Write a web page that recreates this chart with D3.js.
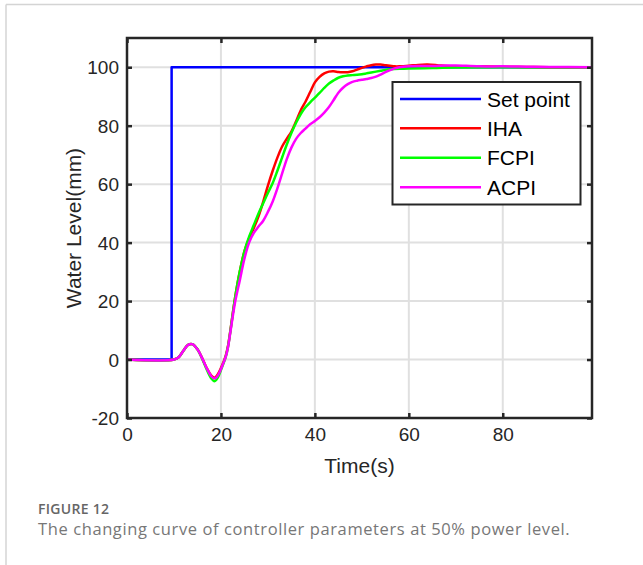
<!DOCTYPE html>
<html>
<head>
<meta charset="utf-8">
<script src="https://cdn.jsdelivr.net/npm/d3@7"></script>
<style>
  html, body { margin: 0; padding: 0; background: #fff; }
  svg { display: block; }
  .tick-label { font-family: "Liberation Sans", Arial, sans-serif; font-size: 19px; fill: #262626; }
  .axis-title { font-family: "Liberation Sans", Arial, sans-serif; font-size: 21px; fill: #262626; }
  .legend-text { font-family: "Liberation Sans", Arial, sans-serif; font-size: 21px; fill: #000; }
  .cap-head { font-family: "Open Sans", "Noto Sans", sans-serif; font-size: 14px; font-weight: 600; fill: #666; letter-spacing: 0.3px; }
  .cap-text { font-family: "Open Sans", "Noto Sans", sans-serif; font-size: 16.5px; fill: #777; letter-spacing: 0.6px; }
</style>
</head>
<body>
<svg id="chart" width="643" height="565"></svg>
<script>
// Water level response (mm) over time (s) for each controller
const seriesNames = ["Set point", "IHA", "FCPI", "ACPI"];
const seriesColors = ["#0000ff", "#ff0000", "#00ff00", "#ff00ff"];

const setPointT = [0, 9.5, 9.5, 99];
const setPointY = [0, 0, 100, 100];

const ihaT = [0, 10, 11, 12, 13, 14, 15, 16, 17, 18, 18.6, 19, 19.5, 20, 20.5, 21, 21.5, 22, 23, 24, 25, 26, 27, 28, 29, 30, 31, 32, 33, 34, 35, 36, 37, 38, 39, 40, 41, 42, 43, 44, 45, 46, 47, 48, 49, 50, 51, 52, 53, 54, 55, 56, 57, 58, 60, 62, 64, 66, 68, 70, 75, 80, 85, 90, 99];
const ihaY = [0, 0, 0.8, 3, 5, 5.2, 3.5, 0.5, -3, -5.6, -6.2, -5.8, -4.6, -2.9, -1, 1.2, 4.6, 9.8, 21, 30, 37, 41.5, 45, 49, 54, 59.5, 64.5, 69, 72.8, 75.5, 78, 81.5, 85.3, 88.2, 91.5, 94.8, 96.7, 97.9, 98.5, 98.6, 98.4, 98.3, 98.3, 98.6, 99.2, 99.8, 100.3, 100.7, 100.9, 100.9, 100.7, 100.5, 100.3, 100.3, 100.5, 100.8, 100.9, 100.7, 100.4, 100.3, 100.3, 100.2, 100.1, 100, 100];

const fcpiT = [0, 10, 11, 12, 13, 14, 15, 16, 17, 18, 18.6, 19, 19.5, 20, 20.5, 21, 21.5, 22, 23, 24, 25, 26, 27, 28, 29, 30, 31, 32, 33, 34, 35, 36, 37, 38, 39, 40, 41, 42, 43, 44, 45, 46, 47, 48, 49, 50, 51, 52, 53, 54, 55, 56, 58, 60, 65, 70, 80, 99];
const fcpiY = [0, 0, 0.8, 3, 5, 5.2, 3.5, 0.3, -3.5, -6.6, -7.4, -7, -5.6, -3.6, -1.5, 0.8, 4.3, 9.6, 21, 30, 37, 42, 46, 50, 53.5, 57, 60.3, 64.5, 69, 73.5, 77.5, 81, 84, 86.3, 88, 89.6, 91.2, 92.9, 94.4, 95.5, 96.4, 96.9, 97.2, 97.3, 97.4, 97.6, 97.9, 98.2, 98.5, 98.8, 99.1, 99.3, 99.5, 99.6, 99.7, 99.9, 100, 100];

const acpiT = [0, 10, 11, 12, 13, 14, 15, 16, 17, 18, 18.6, 19, 19.5, 20, 20.5, 21, 21.5, 22, 23, 24, 25, 26, 27, 28, 29, 30, 31, 32, 33, 34, 35, 36, 37, 38, 39, 40, 41, 42, 43, 44, 45, 46, 47, 48, 49, 50, 51, 52, 53, 54, 55, 56, 57, 58, 60, 62, 65, 68, 70, 75, 80, 85, 90, 99];
const acpiY = [0, 0, 0.8, 3, 5, 5.2, 3.5, 0.5, -3, -5.8, -6.5, -6.2, -5, -3.3, -1.3, 0.8, 4.2, 9.3, 19.5, 27, 34.5, 40, 43.3, 45.5, 47.5, 50.5, 54, 58.5, 63.5, 68.5, 72.5, 75.5, 77.5, 79, 80.5, 81.6, 82.9, 84.5, 86.4, 88.8, 91.3, 93, 94.2, 95, 95.4, 95.7, 96, 96.3, 96.8, 97.5, 98.3, 99, 99.6, 100, 100.3, 100.4, 100.4, 100.6, 100.6, 100.3, 100.3, 100.2, 100.1, 100];

const xTicks = [0, 20, 40, 60, 80];
const yTicks = [-20, 0, 20, 40, 60, 80, 100];

const series = [
  { name: seriesNames[0], color: seriesColors[0], t: setPointT, y: setPointY, smooth: false },
  { name: seriesNames[1], color: seriesColors[1], t: ihaT, y: ihaY, smooth: true },
  { name: seriesNames[2], color: seriesColors[2], t: fcpiT, y: fcpiY, smooth: true },
  { name: seriesNames[3], color: seriesColors[3], t: acpiT, y: acpiY, smooth: true }
];

const svg = d3.select("#chart");
const plot = { left: 127, right: 592, top: 38, bottom: 418 };

const x = d3.scaleLinear().domain([0, 99]).range([plot.left, plot.right]);
const y = d3.scaleLinear().domain([-20, 110]).range([plot.bottom, plot.top]);

// page frame
svg.append("line").attr("x1", 6).attr("x2", 643).attr("y1", 4.5).attr("y2", 4.5)
  .attr("stroke", "#d4d4d4").attr("stroke-width", 1.5);
svg.append("line").attr("x1", 6).attr("x2", 6).attr("y1", 4.5).attr("y2", 565)
  .attr("stroke", "#d4d4d4").attr("stroke-width", 1.5);

// grid
const grid = svg.append("g");
grid.selectAll(".gx").data(xTicks.filter(d => d > 0)).enter().append("line")
  .attr("x1", d => x(d)).attr("x2", d => x(d))
  .attr("y1", plot.top).attr("y2", plot.bottom)
  .attr("stroke", "#e0e0e0").attr("stroke-width", 2);
grid.selectAll(".gy").data(yTicks.filter(d => d > -20)).enter().append("line")
  .attr("x1", plot.left).attr("x2", plot.right)
  .attr("y1", d => y(d)).attr("y2", d => y(d))
  .attr("stroke", "#e0e0e0").attr("stroke-width", 2);

// clip for data
svg.append("clipPath").attr("id", "clip").append("rect")
  .attr("x", plot.left).attr("y", plot.top)
  .attr("width", plot.right - plot.left).attr("height", plot.bottom - plot.top);

const lines = svg.append("g").attr("clip-path", "url(#clip)");
series.forEach(s => {
  const pts = s.t.map((t, i) => [t, s.y[i]]);
  const gen = d3.line().x(d => x(d[0])).y(d => y(d[1]))
    .curve(s.smooth ? d3.curveCatmullRom.alpha(0.5) : d3.curveLinear);
  lines.append("path").attr("d", gen(pts))
    .attr("fill", "none").attr("stroke", s.color)
    .attr("stroke-width", 2.5).attr("stroke-linejoin", "round");
});

// axes with inward ticks on all four sides
const axisColor = "#262626";
const xAxisB = d3.axisBottom(x).tickValues(xTicks).tickSize(-5).tickFormat(d3.format("d"));
const xAxisT = d3.axisTop(x).tickValues(xTicks).tickSize(-5).tickFormat("");
const yAxisL = d3.axisLeft(y).tickValues(yTicks).tickSize(-5).tickFormat(d3.format("d"));
const yAxisR = d3.axisRight(y).tickValues(yTicks).tickSize(-5).tickFormat("");

function styleAxis(g) {
  g.select(".domain").remove();
  g.selectAll(".tick line").attr("stroke", axisColor).attr("stroke-width", 2.5);
  g.selectAll(".tick text").attr("class", "tick-label").attr("fill", axisColor);
}

const gxb = svg.append("g").attr("transform", `translate(0,${plot.bottom})`).call(xAxisB).call(styleAxis);
gxb.selectAll(".tick text").attr("y", 10).attr("dy", "0.71em");
svg.append("g").attr("transform", `translate(0,${plot.top})`).call(xAxisT).call(styleAxis);
const gyl = svg.append("g").attr("transform", `translate(${plot.left},0)`).call(yAxisL).call(styleAxis);
gyl.selectAll(".tick text").attr("x", -8).attr("dy", "0.35em").text(d => d < 0 ? "-" + Math.abs(d) : d);
svg.append("g").attr("transform", `translate(${plot.right},0)`).call(yAxisR).call(styleAxis);

// box
svg.append("rect").attr("x", plot.left).attr("y", plot.top)
  .attr("width", plot.right - plot.left).attr("height", plot.bottom - plot.top)
  .attr("fill", "none").attr("stroke", axisColor).attr("stroke-width", 2.5);

// axis titles
svg.append("text").attr("class", "axis-title")
  .attr("x", (plot.left + plot.right) / 2).attr("y", 473)
  .attr("text-anchor", "middle").text("Time(s)");
svg.append("text").attr("class", "axis-title")
  .attr("transform", `translate(81,${(plot.top + plot.bottom) / 2}) rotate(-90)`)
  .attr("text-anchor", "middle").text("Water Level(mm)");

// legend
const lg = svg.append("g");
lg.append("rect").attr("x", 392.5).attr("y", 82).attr("width", 188).attr("height", 122.5)
  .attr("fill", "#fff").attr("stroke", axisColor).attr("stroke-width", 2);
const rowY = [99, 128.3, 157.7, 187.2];
series.forEach((s, i) => {
  lg.append("line").attr("x1", 400).attr("x2", 481)
    .attr("y1", rowY[i]).attr("y2", rowY[i])
    .attr("stroke", s.color).attr("stroke-width", 2.5);
  lg.append("text").attr("class", "legend-text")
    .attr("x", 487).attr("y", rowY[i]).attr("dy", "0.36em").text(s.name);
});

// caption
svg.append("text").attr("class", "cap-head").attr("x", 38).attr("y", 514).text("FIGURE 12");
svg.append("text").attr("class", "cap-text").attr("x", 38).attr("y", 535)
  .text("The changing curve of controller parameters at 50% power level.");
</script>
</body>
</html>
